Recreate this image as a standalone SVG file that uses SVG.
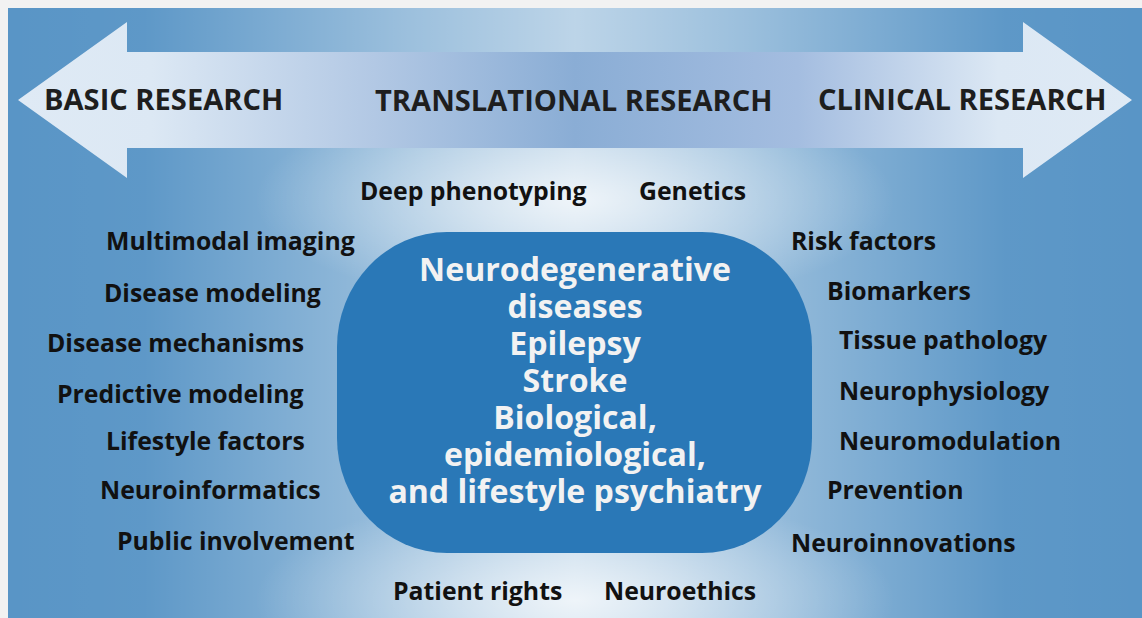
<svg xmlns="http://www.w3.org/2000/svg" width="1142" height="618" viewBox="0 0 1142 618">
<defs>
<linearGradient id="hglow" x1="0" y1="0" x2="1" y2="0">
<stop offset="0" stop-color="#ffffff" stop-opacity="0"/>
<stop offset="0.12" stop-color="#ffffff" stop-opacity="0.03"/>
<stop offset="0.35" stop-color="#ffffff" stop-opacity="0.4"/>
<stop offset="0.5" stop-color="#ffffff" stop-opacity="0.6"/>
<stop offset="0.65" stop-color="#ffffff" stop-opacity="0.4"/>
<stop offset="0.88" stop-color="#ffffff" stop-opacity="0.03"/>
<stop offset="1" stop-color="#ffffff" stop-opacity="0"/>
</linearGradient>
<radialGradient id="rglow" cx="0.5" cy="0.5" r="0.5">
<stop offset="0" stop-color="#ffffff" stop-opacity="0.75"/>
<stop offset="0.5" stop-color="#ffffff" stop-opacity="0.35"/>
<stop offset="1" stop-color="#ffffff" stop-opacity="0"/>
</radialGradient>
<linearGradient id="arrowfill" x1="0" y1="0" x2="1" y2="0">
<stop offset="0" stop-color="#dfeaf5"/>
<stop offset="0.12" stop-color="#dce8f4"/>
<stop offset="0.32" stop-color="#b2c8e4"/>
<stop offset="0.5" stop-color="#8aadd5"/>
<stop offset="0.7" stop-color="#a4bde0"/>
<stop offset="0.88" stop-color="#dce8f4"/>
<stop offset="1" stop-color="#dfeaf5"/>
</linearGradient>
<style>
.lbl{font-family:"Open Sans","Liberation Sans",sans-serif;font-weight:700;font-size:24.8px;fill:#111111}
.hdr{font-family:"Open Sans","Liberation Sans",sans-serif;font-weight:700;font-size:29.1px;fill:#1e1e1e}
.ctr{font-family:"Open Sans","Liberation Sans",sans-serif;font-weight:700;font-size:32.1px;fill:#f2f2f2;text-anchor:middle}
</style>
</defs>
<rect x="0" y="0" width="1142" height="618" fill="#f2f2f2"/>
<rect x="8" y="8" width="1134" height="610" fill="#5995c6"/>
<rect x="8" y="8" width="1134" height="610" fill="url(#hglow)"/>
<ellipse cx="575" cy="200" rx="320" ry="110" fill="url(#rglow)"/>
<ellipse cx="575" cy="600" rx="320" ry="110" fill="url(#rglow)"/>

<g id="arrow">
<polygon points="18,100 127,22 127,52 1023,52 1023,22 1132,100 1023,178 1023,148 127,148 127,178" fill="url(#arrowfill)"/>
<text class="hdr" x="44" y="110">BASIC RESEARCH</text>
<text class="hdr" x="375" y="111">TRANSLATIONAL RESEARCH</text>
<text class="hdr" x="818" y="110">CLINICAL RESEARCH</text>
</g>

<g id="center">
<rect x="337" y="232" width="475" height="321" rx="110" ry="115" fill="#2a78b7"/>
<text class="ctr" x="575" y="281">Neurodegenerative</text>
<text class="ctr" x="575" y="318">diseases</text>
<text class="ctr" x="575" y="355">Epilepsy</text>
<text class="ctr" x="575" y="392">Stroke</text>
<text class="ctr" x="575" y="429">Biological,</text>
<text class="ctr" x="575" y="466">epidemiological,</text>
<text class="ctr" x="575" y="503">and lifestyle psychiatry</text>
</g>

<g id="top-labels">
<text class="lbl" x="360" y="200">Deep phenotyping</text>
<text class="lbl" x="639" y="200">Genetics</text>
</g>
<g id="left-labels">
<text class="lbl" x="106" y="250">Multimodal imaging</text>
<text class="lbl" x="104" y="302">Disease modeling</text>
<text class="lbl" x="47" y="352">Disease mechanisms</text>
<text class="lbl" x="57" y="403">Predictive modeling</text>
<text class="lbl" x="106" y="450">Lifestyle factors</text>
<text class="lbl" x="100" y="499">Neuroinformatics</text>
<text class="lbl" x="117" y="550">Public involvement</text>
</g>
<g id="right-labels">
<text class="lbl" x="791" y="250">Risk factors</text>
<text class="lbl" x="827" y="300">Biomarkers</text>
<text class="lbl" x="839" y="349">Tissue pathology</text>
<text class="lbl" x="839" y="400">Neurophysiology</text>
<text class="lbl" x="839" y="450">Neuromodulation</text>
<text class="lbl" x="827" y="499">Prevention</text>
<text class="lbl" x="791" y="552">Neuroinnovations</text>
</g>
<g id="bottom-labels">
<text class="lbl" x="393" y="600">Patient rights</text>
<text class="lbl" x="604" y="600">Neuroethics</text>
</g>
</svg>
